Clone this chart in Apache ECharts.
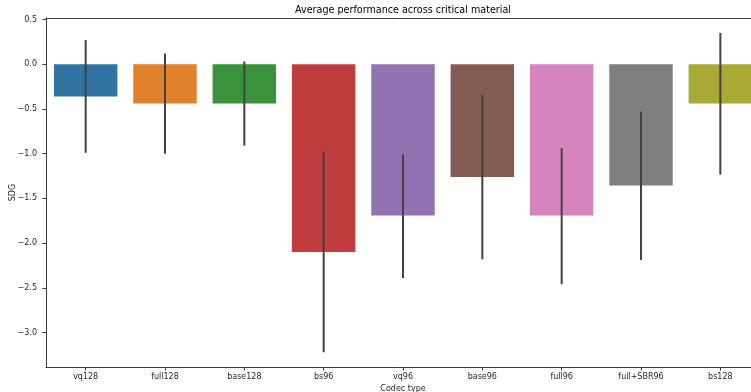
<!DOCTYPE html>
<html>
<head>
<meta charset="utf-8">
<script src="https://cdn.jsdelivr.net/npm/echarts@6/dist/echarts.min.js"></script>
<style>html,body{margin:0;padding:0;background:#fff;}#c{width:751px;height:392px;}</style>
</head>
<body>
<div id="c"></div>
<script>
const categories = ['vq128', 'full128', 'base128', 'bs96', 'vq96', 'base96', 'full96', 'full+SBR96', 'bs128'];
const meanValues = [-0.36, -0.44, -0.44, -2.10, -1.69, -1.26, -1.69, -1.355, -0.44];
const ciLow = [-0.99, -1.00, -0.91, -3.22, -2.39, -2.18, -2.46, -2.19, -1.235];
const ciHigh = [0.27, 0.12, 0.03, -0.98, -1.01, -0.34, -0.94, -0.53, 0.35];
const barColors = ['#3274a1', '#e1812c', '#3a923a', '#c03d3e', '#9372b2', '#845b53', '#d684bd', '#7f7f7f', '#a9aa35'];
const yTicks = [-3.0, -2.5, -2.0, -1.5, -1.0, -0.5, 0.0, 0.5];

const FONT = 'DejaVu Sans';
const chart = echarts.init(document.getElementById('c'), null, {renderer: 'canvas'});
const fmt = v => v.toFixed(1).replace('-', '\u2212');

chart.setOption({
  animation: false,
  backgroundColor: '#fff',
  title: {
    text: 'Average performance across critical material',
    left: 403, top: 5.5, padding: 0, textAlign: 'center',
    textStyle: {fontFamily: FONT, fontSize: 9.6, fontWeight: 'normal', color: '#000'}
  },
  grid: {left: 46, top: 18, width: 714, height: 349, containLabel: false, outerBoundsMode: 'none'},
  xAxis: [{
    type: 'category', data: categories, position: 'bottom',
    boundaryGap: true,
    name: 'Codec type', nameLocation: 'middle', nameGap: 17.5, nameMoveOverlap: false,
    nameTextStyle: {fontFamily: FONT, fontSize: 8, color: '#262626'},
    axisLine: {show: true, onZero: false, lineStyle: {color: '#3a3a3a', width: 1}},
    axisTick: {show: true, alignWithLabel: true, length: 3.5, lineStyle: {color: '#3a3a3a'}},
    axisLabel: {fontFamily: FONT, fontSize: 8, color: '#262626', margin: 5.5, interval: 0},
    splitLine: {show: false}
  }, {
    type: 'category', data: categories, position: 'top',
    axisLine: {show: true, onZero: false, lineStyle: {color: '#3a3a3a', width: 1}},
    axisTick: {show: false}, axisLabel: {show: false}, splitLine: {show: false}
  }],
  yAxis: {
    type: 'value', min: -3.385, max: 0.517,
    name: 'SDG', nameLocation: 'middle', nameGap: 29, nameRotate: 90, nameMoveOverlap: false,
    nameTextStyle: {fontFamily: FONT, fontSize: 8, color: '#262626', padding: [0, 0, 0, 0]},
    axisLine: {show: true, lineStyle: {color: '#3a3a3a', width: 1}},
    axisTick: {show: true, length: 3.5, customValues: yTicks, lineStyle: {color: '#3a3a3a'}},
    axisLabel: {fontFamily: FONT, fontSize: 8, color: '#262626', margin: 9, customValues: yTicks, formatter: fmt},
    splitLine: {show: false}
  },
  series: [{
    type: 'bar',
    barWidth: '80%',
    data: meanValues.map((v, i) => ({value: v, itemStyle: {color: barColors[i]}})),
    z: 2
  }, {
    type: 'custom',
    z: 3,
    data: categories.map((c, i) => [i, ciLow[i], ciHigh[i]]),
    renderItem: function (params, api) {
      const lo = api.coord([api.value(0), api.value(1)]);
      const hi = api.coord([api.value(0), api.value(2)]);
      return {
        type: 'line',
        shape: {x1: lo[0], y1: lo[1], x2: hi[0], y2: hi[1]},
        style: {stroke: '#424242', lineWidth: 2}
      };
    }
  }]
});
</script>
</body>
</html>
